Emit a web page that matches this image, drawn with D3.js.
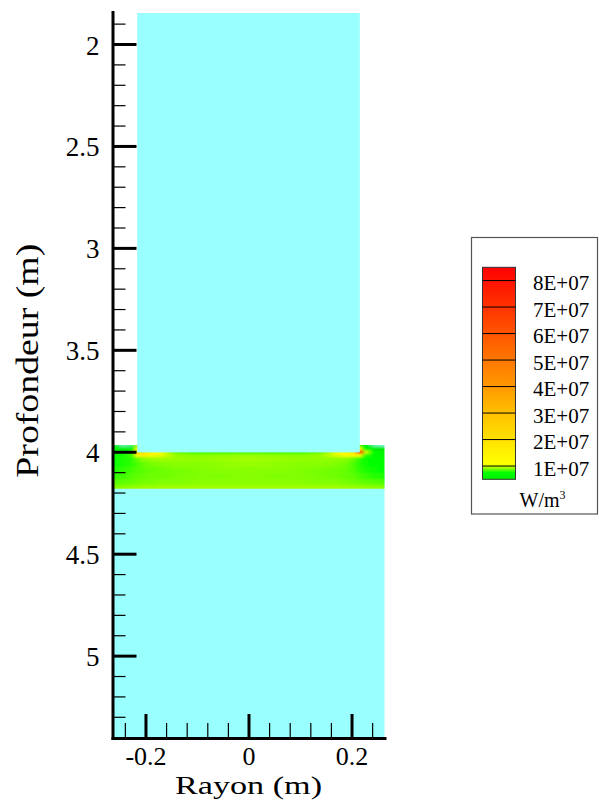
<!DOCTYPE html>
<html><head><meta charset="utf-8">
<script src="https://cdn.jsdelivr.net/npm/d3@7"></script>
<style>
html,body{margin:0;padding:0;background:#fff;}
svg{display:block;}
svg text{font-family:"Liberation Serif","Times New Roman",Times,serif;fill:#000;}
</style></head><body>
<svg id="chart" width="599" height="810"></svg>
<script>
// ---------------- data ----------------
const radiusDomain = [-0.264, 0.264];
const depthDomain = [1.843, 5.404];
const xMajorTicks = [-0.2, 0, 0.2];
const xMinorTicks = [-0.24, -0.16, -0.12, -0.08, -0.04, 0.04, 0.08, 0.12, 0.16, 0.24];
const yMajorTicks = [2, 2.5, 3, 3.5, 4, 4.5, 5];
const yMinorTicks = [1.9, 2.1, 2.2, 2.3, 2.4, 2.6, 2.7, 2.8, 2.9, 3.1, 3.2, 3.3, 3.4,
                     3.6, 3.7, 3.8, 3.9, 4.1, 4.2, 4.3, 4.4, 4.6, 4.7, 4.8, 4.9, 5.1, 5.2, 5.3];
const xTitle = "Rayon (m)";
const yTitle = "Profondeur (m)";

// geometry of the domain (m)
const columnRadius = [-0.216, 0.216];
const columnDepth = [1.848, 4.003];
const slabDepth = [3.967, 4.182];
const groundDepth = [4.1, 5.404];

// power density field in the heated slab (units of 1E7 W/m3)
const fieldRadius = [-0.264, -0.245, -0.228, -0.216, -0.205, -0.19, -0.17, -0.14, -0.1, -0.05, 0,
                     0.05, 0.1, 0.14, 0.17, 0.19, 0.205, 0.216, 0.228, 0.245, 0.264];
const fieldDepth = [3.967, 3.985, 4.003, 4.015, 4.035, 4.06, 4.09, 4.12, 4.15, 4.17, 4.182];
const row3967 = [0.45, 0.1, 0.15, 0.9, 0.9, 0.9, 0.9, 0.9, 0.9, 0.9, 0.9, 0.9, 0.9, 0.9, 0.9, 0.9, 0.9, 0.8, 0.5, 0.1, 0.05];
const row3985 = [0.7, 0.45, 0.5, 1.1, 0.9, 0.9, 0.9, 0.9, 0.9, 0.9, 0.9, 0.9, 0.9, 0.9, 0.9, 0.9, 0.9, 1.2, 0.75, 0.5, 0.3];
const row4003 = [0.75, 0.72, 0.8, 2.6, 2.2, 1.5, 1.1, 0.85, 0.78, 0.78, 0.78, 0.78, 0.78, 0.85, 1.05, 1.4, 2.2, 8.3, 1.0, 0.7, 0.6];
const row4015 = [0.76, 0.77, 0.82, 1.3, 1.5, 1.2, 1.02, 0.92, 0.9, 0.91, 0.92, 0.91, 0.9, 0.92, 1.0, 1.1, 1.3, 1.2, 0.8, 0.7, 0.65];
const row4035 = [0.76, 0.78, 0.8, 0.86, 0.9, 0.92, 0.93, 0.92, 0.91, 0.92, 0.93, 0.92, 0.91, 0.91, 0.91, 0.9, 0.86, 0.8, 0.76, 0.72, 0.68];
const row4060 = [0.76, 0.78, 0.8, 0.83, 0.86, 0.88, 0.89, 0.9, 0.9, 0.91, 0.92, 0.91, 0.9, 0.9, 0.89, 0.87, 0.83, 0.79, 0.76, 0.74, 0.72];
const row4090 = [0.78, 0.8, 0.82, 0.84, 0.85, 0.86, 0.87, 0.88, 0.89, 0.9, 0.9, 0.9, 0.89, 0.88, 0.87, 0.86, 0.83, 0.8, 0.78, 0.76, 0.75];
const row4120 = [0.8, 0.82, 0.84, 0.85, 0.86, 0.87, 0.87, 0.88, 0.89, 0.89, 0.9, 0.89, 0.89, 0.88, 0.87, 0.86, 0.85, 0.83, 0.81, 0.79, 0.78];
const row4150 = [0.84, 0.85, 0.86, 0.87, 0.88, 0.88, 0.89, 0.89, 0.9, 0.9, 0.9, 0.9, 0.9, 0.89, 0.89, 0.88, 0.87, 0.86, 0.85, 0.84, 0.83];
const row4170 = [0.88, 0.89, 0.9, 0.9, 0.91, 0.91, 0.92, 0.92, 0.92, 0.92, 0.92, 0.92, 0.92, 0.92, 0.92, 0.91, 0.91, 0.9, 0.9, 0.89, 0.88];
const row4182 = [0.92, 0.92, 0.93, 0.93, 0.94, 0.94, 0.94, 0.94, 0.94, 0.94, 0.94, 0.94, 0.94, 0.94, 0.94, 0.94, 0.94, 0.93, 0.93, 0.92, 0.92];
const fieldValues = [row3967, row3985, row4003, row4015, row4035, row4060, row4090, row4120, row4150, row4170, row4182];

// colour map (value in 1E7 W/m3 -> colour)
const colorStops = [0, 0.3, 0.75, 0.9, 1.0, 1.1, 2, 3, 4, 5, 6, 7, 8, 8.5];
const colorValues = ["#99FFFF", "#00E400", "#00FF00", "#88FF00", "#DDFF00", "#FFFF00", "#FFE100",
                     "#FFC000", "#FF9900", "#FF7700", "#FF5500", "#FF3300", "#FF1100", "#FF0000"];

// legend
const legendLevels = [1, 2, 3, 4, 5, 6, 7, 8];
const legendLabels = ["1E+07", "2E+07", "3E+07", "4E+07", "5E+07", "6E+07", "7E+07", "8E+07"];
const legendRange = [0.5, 8.5];
const legendUnit = "W/m";
const legendUnitSup = "3";

// ---------------- drawing ----------------
const FONT = "'Liberation Serif','Times New Roman',serif";
const svg = d3.select("#chart");
const defs = svg.append("defs");

const x = d3.scaleLinear().domain(radiusDomain).range([112.5, 384.5]);
const y = d3.scaleLinear().domain(depthDomain).range([12, 738]);
const color = d3.scaleLinear().domain(colorStops).range(colorValues)
  .interpolate(d3.interpolateRgb).clamp(true);

// ground (value 0)
svg.append("rect")
  .attr("x", x(radiusDomain[0])).attr("width", x(radiusDomain[1]) - x(radiusDomain[0]))
  .attr("y", y(groundDepth[0])).attr("height", y(groundDepth[1]) - y(groundDepth[0]))
  .attr("fill", color(0));

// heated slab field
defs.append("clipPath").attr("id", "slabClip").append("rect")
  .attr("x", x(radiusDomain[0])).attr("width", x(radiusDomain[1]) - x(radiusDomain[0]))
  .attr("y", y(slabDepth[0])).attr("height", y(slabDepth[1]) - y(slabDepth[0]));
const blur = defs.append("filter").attr("id", "soft")
  .attr("x", "-5%").attr("y", "-20%").attr("width", "110%").attr("height", "140%");
blur.append("feGaussianBlur").attr("stdDeviation", "0.4 1.1");

const gx1 = x(fieldRadius[0]), gx2 = x(fieldRadius[fieldRadius.length - 1]);
fieldValues.forEach((row, i) => {
  const g = defs.append("linearGradient").attr("id", "fg" + i)
    .attr("gradientUnits", "userSpaceOnUse")
    .attr("x1", gx1).attr("x2", gx2).attr("y1", 0).attr("y2", 0);
  row.forEach((v, j) => {
    g.append("stop").attr("offset", (x(fieldRadius[j]) - gx1) / (gx2 - gx1))
      .attr("stop-color", color(v));
  });
});
const slab = svg.append("g").attr("clip-path", "url(#slabClip)")
  .append("g").attr("filter", "url(#soft)");
const stripTop = i => i === 0 ? y(fieldDepth[0]) - 6 : y((fieldDepth[i - 1] + fieldDepth[i]) / 2);
const stripBot = i => i === fieldDepth.length - 1 ? y(fieldDepth[i]) + 6 : y((fieldDepth[i] + fieldDepth[i + 1]) / 2);
slab.selectAll("rect").data(fieldDepth).join("rect")
  .attr("x", gx1 - 6).attr("width", gx2 - gx1 + 12)
  .attr("y", (d, i) => stripTop(i))
  .attr("height", (d, i) => stripBot(i) - stripTop(i) + 0.6)
  .attr("fill", (d, i) => "url(#fg" + i + ")");

// column (value 0)
svg.append("rect")
  .attr("x", x(columnRadius[0])).attr("width", x(columnRadius[1]) - x(columnRadius[0]))
  .attr("y", y(columnDepth[0])).attr("height", y(columnDepth[1]) - y(columnDepth[0]))
  .attr("fill", color(0));

// axes
const fmt = d => String(d);
const yMinor = svg.append("g").attr("transform", "translate(" + x(radiusDomain[0]) + ",0)")
  .call(d3.axisLeft(y).tickValues(yMinorTicks).tickSize(-13).tickFormat(""));
yMinor.select(".domain").remove();
yMinor.selectAll("line").attr("stroke", "#000").attr("stroke-width", 1.2);

const xMinor = svg.append("g").attr("transform", "translate(0," + y(depthDomain[1]) + ")")
  .call(d3.axisBottom(x).tickValues(xMinorTicks).tickSize(-15).tickFormat(""));
xMinor.select(".domain").remove();
xMinor.selectAll("line").attr("stroke", "#000").attr("stroke-width", 1.2);

const yAx = svg.append("g").attr("transform", "translate(" + x(radiusDomain[0]) + ",0)")
  .call(d3.axisLeft(y).tickValues(yMajorTicks).tickSize(-24).tickSizeOuter(0).tickPadding(13).tickFormat(fmt));
const xAx = svg.append("g").attr("transform", "translate(0," + y(depthDomain[1]) + ")")
  .call(d3.axisBottom(x).tickValues(xMajorTicks).tickSize(-24).tickSizeOuter(0).tickPadding(9).tickFormat(fmt));
[yAx, xAx].forEach(a => {
  a.attr("font-family", FONT).attr("font-size", 27);
  a.select(".domain").attr("stroke", "#000").attr("stroke-width", 3).attr("stroke-linecap", "square");
  a.selectAll(".tick line").attr("stroke", "#000").attr("stroke-width", 3);
  a.selectAll(".tick text").attr("font-family", FONT).style("font-size", "27px");
});
yAx.selectAll(".tick text").attr("dy", "0.37em");
xAx.selectAll(".tick text").style("font-size", "26px");

// titles
svg.append("text").attr("x", x(0)).attr("y", 794)
  .attr("text-anchor", "middle").attr("font-family", FONT).style("font-size", "26px")
  .attr("textLength", 147).attr("lengthAdjust", "spacingAndGlyphs")
  .text(xTitle);
svg.append("text").attr("transform", "translate(37.5," + 360.7 + ") rotate(-90)")
  .attr("text-anchor", "middle").attr("font-family", FONT).style("font-size", "31px")
  .attr("textLength", 234).attr("lengthAdjust", "spacingAndGlyphs")
  .text(yTitle);

// legend
const lg = svg.append("g").attr("font-family", FONT);
lg.append("rect").attr("x", 471.5).attr("y", 237.5).attr("width", 126).attr("height", 276.5)
  .attr("fill", "#fff").attr("stroke", "#555").attr("stroke-width", 1.2);
const ly = d3.scaleLinear().domain(legendRange).range([479.3, 267.3]);
const lgGrad = defs.append("linearGradient").attr("id", "legendGrad")
  .attr("gradientUnits", "userSpaceOnUse")
  .attr("x1", 0).attr("x2", 0).attr("y1", ly(legendRange[0])).attr("y2", ly(legendRange[1]));
const lgStops = [legendRange[0]].concat(colorStops.filter(v => v > legendRange[0] && v < legendRange[1]), [legendRange[1]]);
lgStops.forEach(v => {
  lgGrad.append("stop").attr("offset", (v - legendRange[0]) / (legendRange[1] - legendRange[0]))
    .attr("stop-color", color(v));
});
const barX0 = 482.5, barX1 = 515.5;
lg.append("rect").attr("x", barX0).attr("width", barX1 - barX0)
  .attr("y", ly(legendRange[1])).attr("height", ly(legendRange[0]) - ly(legendRange[1]))
  .attr("fill", "url(#legendGrad)").attr("stroke", "#333").attr("stroke-width", 1);
lg.selectAll("line.lvl").data(legendLevels).join("line").attr("class", "lvl")
  .attr("x1", barX0).attr("x2", barX1)
  .attr("y1", d => ly(d)).attr("y2", d => ly(d))
  .attr("stroke", "#000").attr("stroke-width", 1);
lg.selectAll("text.lbl").data(legendLevels).join("text").attr("class", "lbl")
  .attr("x", 533).attr("y", d => ly(d) + 9.5)
  .attr("font-family", FONT).style("font-size", "21px")
  .text((d, i) => legendLabels[i]);
const unit = lg.append("text").attr("x", 519.5).attr("y", 506.7)
  .attr("font-family", FONT).style("font-size", "20px");
unit.append("tspan").text(legendUnit);
unit.append("tspan").attr("dy", -8).style("font-size", "12px").text(legendUnitSup);
</script>
</body></html>
